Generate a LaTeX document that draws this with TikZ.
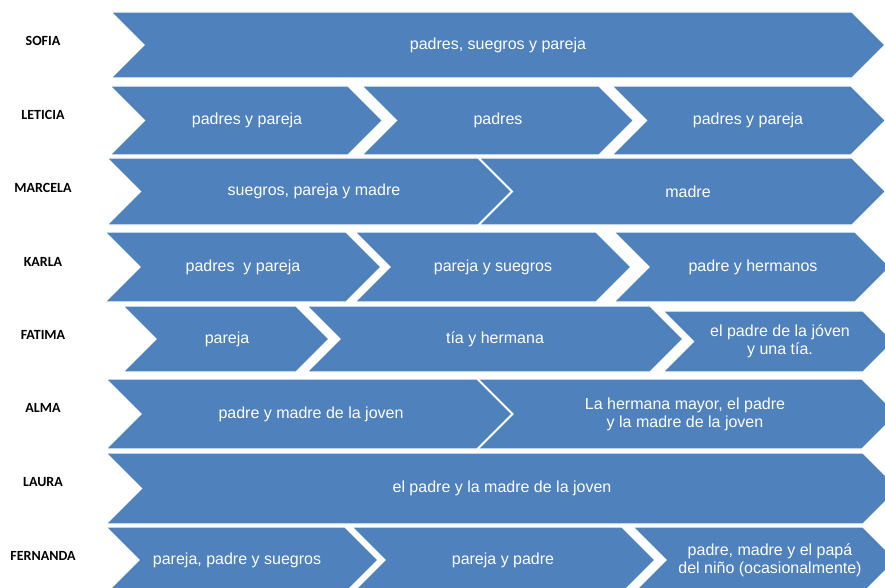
\documentclass[tikz,border=0pt]{standalone}
\usepackage{fontspec}
\setmainfont{Liberation Sans}
\newfontfamily\lblfont{Carlito}
\definecolor{chevblue}{HTML}{4F81BD}
\tikzset{
  chevshape/.style={fill=chevblue, draw=white, line width=1.2pt, line join=miter},
  chevtext/.style={text=white, font=\fontsize{16}{18}\selectfont, align=center, inner sep=0pt},
  rowlabel/.style={font=\lblfont\bfseries\fontsize{14}{16}\selectfont, text=black, inner sep=0pt}
}
% #1 name, #2 x0, #3 x1, #4 ytop, #5 ybot, #6 text x, #7 text
\newcommand\chevbox[7]{%
  \pgfmathsetmacro\chD{(#5-#4)/2}%
  \pgfmathsetmacro\chM{(#5+#4)/2}%
  \path[chevshape] (#2,#4) -- (#3,#4) -- ({#3+\chD},\chM) -- (#3,#5) -- (#2,#5) -- ({#2+\chD},\chM) -- cycle;
  \node[chevtext] (#1) at (#6,\chM) {#7};
}
\begin{document}
\begin{tikzpicture}[x=1pt,y=-1pt]
\useasboundingbox (0,0) rectangle (885,588);
\begin{scope}
\clip (0,0) rectangle (885,588);
% SOFIA
\chevbox{s1}{111}{852}{12}{78}{498}{padres, suegros y pareja}
% LETICIA
\chevbox{l1}{110}{348}{86}{155}{247}{padres y pareja}
\chevbox{l2}{362}{599}{86}{155}{498}{padres}
\chevbox{l3}{612}{851}{86}{155}{748}{padres y pareja}
% MARCELA
\chevbox{m1}{107}{478}{158}{225}{314}{suegros, pareja y madre}
\chevbox{m2}{479}{852}{158}{225}{688}{madre}
% KARLA
\chevbox{k1}{105}{346}{232}{302}{243}{padres \ y pareja}
\chevbox{k2}{355}{596}{232}{302}{493}{pareja y suegros}
\chevbox{k3}{614}{855}{232}{302}{753}{padre y hermanos}
% FATIMA
\chevbox{f1}{123}{296}{306}{372}{227}{pareja}
\chevbox{f2}{307}{650}{306}{372}{495}{tía y hermana}
\chevbox{f3}{663}{863}{311}{372}{780}{el padre de la jóven\\y una tía.}
% ALMA
\chevbox{a1}{106}{477}{379}{449}{311}{padre y madre de la joven}
\chevbox{a2}{478}{862}{379}{449}{685}{La hermana mayor, el padre\\y la madre de la joven}
% LAURA
\chevbox{la1}{106}{863}{453}{524}{502}{el padre y la madre de la joven}
% FERNANDA
\chevbox{fe1}{106}{345}{527}{593}{237}{pareja, padre y suegros}
\chevbox{fe2}{352}{622}{527}{593}{503}{pareja y padre}
\chevbox{fe3}{633}{863}{527}{593}{770}{padre, madre y el papá\\del niño (ocasionalmente)}
\end{scope}
% row labels
\node[rowlabel] (nSofia) at (43,41) {SOFIA};
\node[rowlabel] (nLeticia) at (43,115) {LETICIA};
\node[rowlabel] (nMarcela) at (43,188) {MARCELA};
\node[rowlabel] (nKarla) at (43,262) {KARLA};
\node[rowlabel] (nFatima) at (43,335) {FATIMA};
\node[rowlabel] (nAlma) at (43,408) {ALMA};
\node[rowlabel] (nLaura) at (43,482) {LAURA};
\node[rowlabel] (nFernanda) at (43,556) {FERNANDA};
\end{tikzpicture}
\end{document}
